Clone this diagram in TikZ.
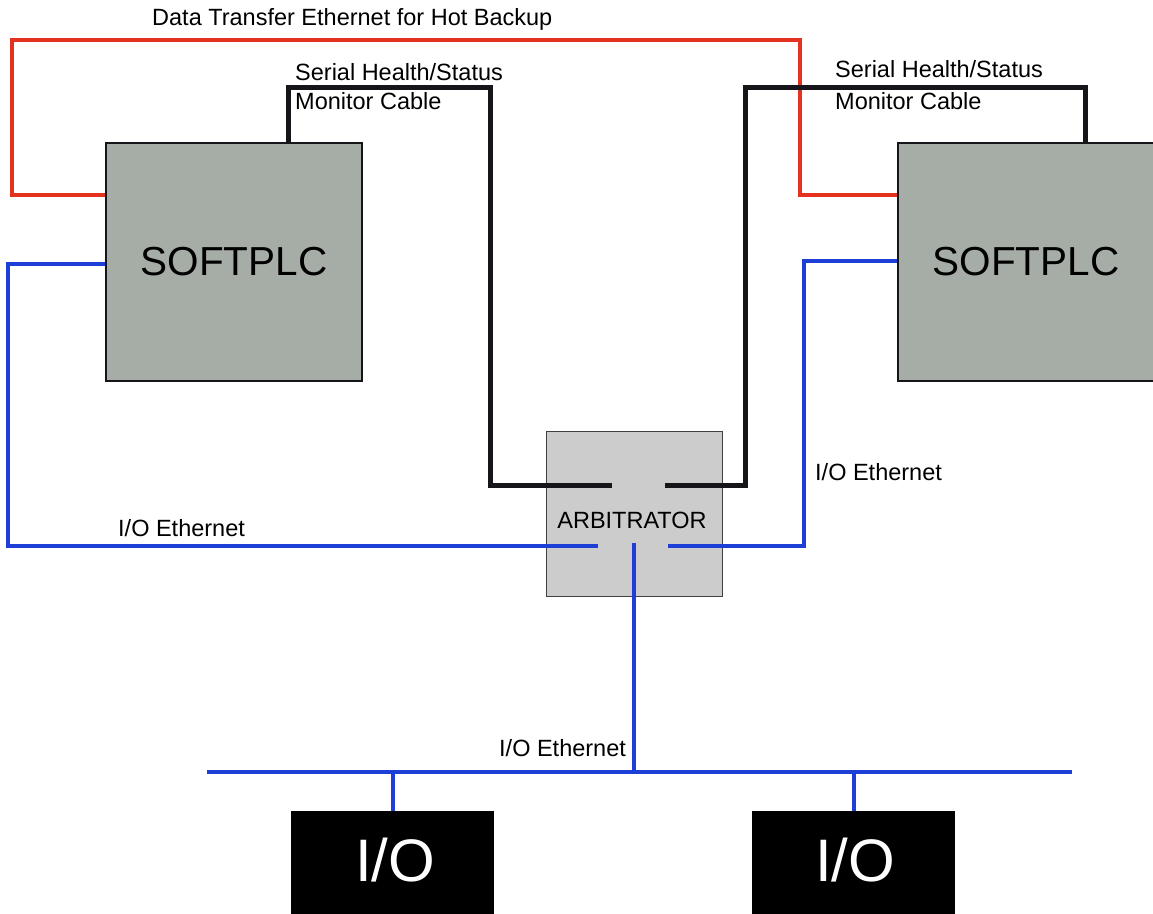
\documentclass[tikz,border=0pt]{standalone}
\usepackage{fontspec}
\setmainfont{Liberation Sans}
\usepackage{tikz}
\usetikzlibrary{positioning,calc}
\definecolor{plcgray}{RGB}{166,172,166}
\definecolor{arbgray}{RGB}{204,204,204}
\definecolor{cablered}{RGB}{228,50,30}
\definecolor{cableblue}{RGB}{30,62,216}
\definecolor{cableblack}{RGB}{22,22,26}

\begin{document}
\begin{tikzpicture}[
    x=1pt, y=-1pt,
    every node/.style={font=\fontsize{23.5}{28}\selectfont, inner sep=0pt},
    plc/.style={draw=cableblack, line width=2.5pt, fill=plcgray,
                minimum width=256pt, minimum height=238pt,
                font=\fontsize{40.5}{48}\selectfont},
    arbiter/.style={draw=black!75, line width=1.5pt, fill=arbgray,
                minimum width=176pt, minimum height=165pt},
    iobox/.style={fill=black, text=white, minimum width=203pt, minimum height=110pt,
                font=\fontsize{60}{72}\selectfont},
    label/.style={anchor=base west},
    redcable/.style={draw=cablered, line width=4pt},
    bluecable/.style={draw=cableblue, line width=4.5pt},
    serial/.style={draw=cableblack, line width=5pt},
]
    \useasboundingbox (0,0) rectangle (1153,913);

    % devices
    \node[plc] (plcL) at (234,262) {SOFTPLC};
    \node[plc] (plcR) at (1026,262) {SOFTPLC};
    \node[arbiter] (arb) at (634.5,514) {};
    \node at (632,520) (arbText) {ARBITRATOR};
    \node[iobox] (ioL) at (392.5,866) {};
    \node[iobox] (ioR) at (853.5,866) {};
    \node (ioLText) at (395,860) {\fontsize{60}{72}\selectfont\color{white}I/O};
    \node (ioRText) at (855,860) {\fontsize{60}{72}\selectfont\color{white}I/O};

    % cable ends inside the arbitrator
    \coordinate (arbSerL) at (612,485);
    \coordinate (arbSerR) at (665,485);
    \coordinate (arbIoL) at (598,546);
    \coordinate (arbIoR) at (668,546);
    \coordinate (arbIoB) at (634,543);
    \coordinate (busL) at (207,772);
    \coordinate (busR) at (1072,772);

    % hot backup link
    \draw[redcable] ([yshift=67pt]plcL.west) -| (12,40) -| (800,195)
        -- ([yshift=67pt]plcR.west);

    % serial health cables
    \draw[serial] ([xshift=54pt]plcL.north) |- (490,87) |- (arbSerL);
    \draw[serial] (arbSerR) -| (745,87) -| ([xshift=59pt]plcR.north);

    % I/O ethernet
    \draw[bluecable] ([yshift=-2pt]plcL.west) -| (8,546) -- (arbIoL);
    \draw[bluecable] ([yshift=1pt]plcR.west) -| (804,546) -- (arbIoR);
    \draw[bluecable] (arbIoB) -- (arbIoB |- busL);
    \draw[bluecable] (busL) -- (busR);
    \draw[bluecable, line width=4pt] (ioL.north) -- (ioL.north |- busL);
    \draw[bluecable, line width=4pt] (ioR.north) -- (ioR.north |- busL);

    % labels
    \node[label] (lblBackup) at (152,25) {Data Transfer Ethernet for Hot Backup};
    \node[label] (lblSerL1) at (295,80) {Serial Health/Status};
    \node[label] (lblSerL2) at (295,109) {Monitor Cable};
    \node[label] (lblSerR1) at (835,77) {Serial Health/Status};
    \node[label] (lblSerR2) at (835,109) {Monitor Cable};
    \node[label] (lblIoL) at (118,536) {I/O Ethernet};
    \node[label] (lblIoR) at (815,480) {I/O Ethernet};
    \node[label] (lblIoB) at (499,756) {I/O Ethernet};
\end{tikzpicture}
\end{document}
